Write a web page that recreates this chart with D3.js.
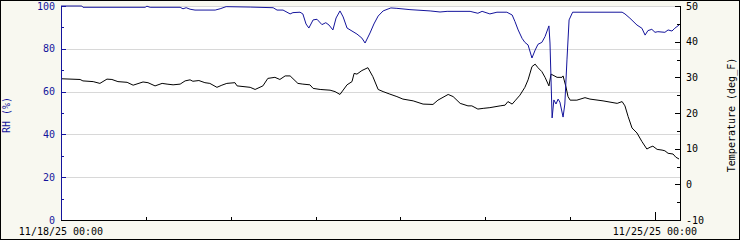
<!DOCTYPE html>
<html>
<head>
<meta charset="utf-8">
<script src="https://cdn.jsdelivr.net/npm/d3@7"></script>
<style>
  body { margin: 0; background: #fff; }
  svg { display: block; }
  text { font-family: "DejaVu Sans Mono", monospace; font-size: 10px; }
</style>
</head>
<body>
<svg id="chart"></svg>
<script>
// hours after 11/18/25 00:00
const rhHours = [0, 5.9, 6.2, 23.8, 24.3, 25.2, 33.7, 34.5, 35.4, 36.5, 37.9, 43.6, 45.0, 46.7, 53.5,
  60.0, 61.1, 62.8, 64.8, 65.6, 67.6, 68.4, 69.3, 70.1, 71.3, 72.4, 73.8, 74.9, 75.8, 76.9, 77.8,
  78.9, 79.8, 80.9, 82.3, 83.7, 85.1, 86.0, 87.4, 88.5, 89.7, 91.1, 92.5, 93.3, 95.0, 98.7, 104.4,
  107.2, 109.2, 115.7, 117.9, 119.1, 121.3, 123.3, 126.1, 127.6, 128.4, 129.3, 130.4, 131.2, 132.1,
  133.2, 134.1, 134.9, 136.0, 136.9, 138.0, 138.3, 138.9, 139.4, 140.0, 140.6, 141.1, 142.0, 142.5,
  143.1, 143.7, 144.7, 158.7, 159.5, 160.9, 162.9, 164.3, 165.2, 166.0, 167.1, 168.0, 168.8, 170.8,
  171.7, 172.8, 173.6, 174.8];
const rhValues = [100, 100, 99.4, 99.4, 99.9, 99.4, 99.4, 98.7, 99.2, 98.5, 98.1, 98.1, 98.7, 99.7, 99.5,
  99.2, 98.1, 98.1, 96.3, 96.9, 97.1, 96.3, 91.6, 89.7, 93.5, 93.8, 91.3, 92.2, 91.1, 88.8, 94.4,
  97.7, 94.9, 89.7, 88.3, 86.9, 85.0, 82.7, 87.4, 91.6, 95.3, 97.7, 98.6, 99.1, 98.9, 98.3, 97.7,
  97.2, 97.5, 97.5, 96.6, 97.5, 96.3, 97.1, 97.1, 95.8, 92.7, 88.8, 84.9, 83.0, 81.8,
  75.7, 79.4, 82.1, 83.0, 85.7, 90.7, 82.7, 47.7, 56.1, 54.2, 56.5, 55.1, 48.1, 54.2,
  74.8, 93.5, 97.1, 97.1, 96.3, 94.3, 91.1, 89.6, 86.4, 88.5, 89.1, 87.7, 88.0, 87.7,
  88.8, 88.3, 89.6, 91.1];

const tempHours = [0, 5.4, 6.2, 9.1, 11.0, 13.0, 14.4, 16.1, 18.7, 20.4, 23.2, 24.6, 26.6, 28.6, 30.0,
  31.7, 33.7, 35.1, 36.5, 37.3, 39.0, 40.7, 42.1, 44.1, 45.5, 46.9, 49.2, 49.8, 53.5, 54.9, 57.1,
  58.5, 60.5, 61.9, 63.4, 64.8, 67.0, 68.4, 70.4, 71.3, 73.3, 76.1, 77.5, 78.9, 80.9, 82.3, 82.9,
  83.7, 85.1, 86.8, 88.2, 89.7, 91.1, 93.0, 95.0, 96.7, 99.6, 102.4, 105.2, 106.6, 109.5, 110.9,
  112.9, 115.1, 116.2, 117.9, 119.4, 121.3, 124.2, 125.6, 126.4, 127.6, 128.4, 129.8, 131.2, 132.1,
  133.2, 134.1, 134.9, 136.0, 136.9, 138.0, 138.6, 140.3, 141.7, 142.0, 142.8, 143.4, 144.0, 145.9,
  148.2, 149.6, 153.3, 157.3, 158.7, 159.5, 160.4, 161.5, 162.9, 164.3, 165.7, 166.6, 167.4, 168.6,
  170.0, 170.8, 171.7, 173.1, 173.9, 174.8];
const tempValues = [29.6, 29.4, 29.0, 28.8, 28.3, 29.5, 29.4, 28.8, 28.6, 27.8, 28.7, 28.5, 27.6, 28.3, 28.1,
  27.9, 28.1, 29.0, 29.3, 28.9, 29.1, 28.5, 28.3, 27.2, 27.8, 28.3, 28.5, 27.6, 27.2, 26.6, 27.6,
  29.7, 30.0, 29.4, 30.4, 30.4, 28.3, 28.1, 27.9, 26.9, 26.6, 26.4, 26.0, 25.2, 27.9, 28.8, 31.1,
  30.9, 31.9, 32.7, 30.2, 26.6, 26.0, 25.3, 24.6, 23.9, 23.4, 22.5, 22.4, 23.6, 25.2, 24.6,
  22.7, 22.0, 22.0, 21.1, 21.3, 21.5, 22.0, 22.2, 23.2, 22.5, 23.4, 25.0, 27.2, 29.3,
  33.0, 33.7, 32.7, 31.6, 30.0, 27.6, 30.9, 30.0, 30.0, 30.4, 27.4, 24.6, 23.6, 23.6,
  24.3, 23.9, 23.4, 22.7, 23.2, 22.0, 19.0, 15.8, 14.4, 12.0, 9.9, 10.4, 10.7, 9.8,
  9.6, 9.4, 8.7, 8.5, 7.6, 7.1];

const rhTicks = [0, 20, 40, 60, 80, 100];
const tempTicks = [-10, 0, 10, 20, 30, 40, 50];
const timeLabels = ["11/18/25 00:00", "11/25/25 00:00"];

const width = 740, height = 240;
const plotLeft = 61, plotRight = 680, plotTop = 6, plotBottom = 220;
const blue = "#14149c";

const parseTime = d3.timeParse("%m/%d/%y %H:%M");
const formatTime = d3.timeFormat("%m/%d/%y %H:%M");
const start = parseTime(timeLabels[0]);
const hourMs = 3600 * 1000;
const toDate = (h) => new Date(start.getTime() + h * hourMs);

const x = d3.scaleTime()
  .domain([start, toDate(175.07)])
  .range([plotLeft, plotRight]);
const yRh = d3.scaleLinear().domain([0, 100]).range([plotBottom, plotTop]);
const yTemp = d3.scaleLinear().domain([-10, 50]).range([plotBottom, plotTop]);

const svg = d3.select("#chart").attr("width", width).attr("height", height);

// page background + border
svg.append("rect")
  .attr("x", 0.5).attr("y", 0.5)
  .attr("width", width - 1).attr("height", height - 1)
  .attr("fill", "#f8f8f0")
  .attr("stroke", "#000");

svg.append("rect")
  .attr("x", plotLeft).attr("y", plotTop)
  .attr("width", plotRight - plotLeft).attr("height", plotBottom - plotTop)
  .attr("fill", "#fff");

// grid from the RH axis
svg.append("g")
  .selectAll("line")
  .data(rhTicks.filter((d) => d > 0))
  .join("line")
  .attr("x1", plotLeft).attr("x2", plotRight)
  .attr("y1", (d) => Math.round(yRh(d)) + 0.5)
  .attr("y2", (d) => Math.round(yRh(d)) + 0.5)
  .attr("stroke", "#d8d8d8")
  .attr("shape-rendering", "crispEdges");

// lines
const rhLine = d3.line()
  .x((d) => x(toDate(d[0])))
  .y((d) => yRh(d[1]));
const tempLine = d3.line()
  .x((d) => x(toDate(d[0])))
  .y((d) => yTemp(d[1]));

svg.append("path")
  .datum(tempHours.map((h, i) => [h, tempValues[i]]))
  .attr("d", tempLine)
  .attr("fill", "none")
  .attr("stroke", "#000")
  .attr("stroke-width", 1);

svg.append("path")
  .datum(rhHours.map((h, i) => [h, rhValues[i]]))
  .attr("d", rhLine)
  .attr("fill", "none")
  .attr("stroke", blue)
  .attr("stroke-width", 1);

// left axis (RH)
const leftAxis = svg.append("g").attr("shape-rendering", "crispEdges");
leftAxis.append("line")
  .attr("x1", plotLeft + 0.5).attr("x2", plotLeft + 0.5)
  .attr("y1", plotTop).attr("y2", plotBottom)
  .attr("stroke", blue);
leftAxis.selectAll(".minor")
  .data(d3.range(10, 100, 20))
  .join("line")
  .attr("x1", plotLeft).attr("x2", plotLeft + 3)
  .attr("y1", (d) => Math.round(yRh(d)) + 0.5)
  .attr("y2", (d) => Math.round(yRh(d)) + 0.5)
  .attr("stroke", blue);
leftAxis.selectAll(".major")
  .data(rhTicks)
  .join("line")
  .attr("x1", plotLeft).attr("x2", plotLeft + 5)
  .attr("y1", (d) => Math.round(yRh(d)) + 0.5)
  .attr("y2", (d) => Math.round(yRh(d)) + 0.5)
  .attr("stroke", blue);
leftAxis.selectAll("text")
  .data(rhTicks)
  .join("text")
  .attr("x", 55)
  .attr("y", (d) => yRh(d))
  .attr("dy", "0.35em")
  .attr("text-anchor", "end")
  .attr("fill", blue)
  .text((d) => d);

// right axis (temperature)
const rightAxis = svg.append("g").attr("shape-rendering", "crispEdges");
rightAxis.append("line")
  .attr("x1", plotRight + 0.5).attr("x2", plotRight + 0.5)
  .attr("y1", plotTop).attr("y2", plotBottom)
  .attr("stroke", "#000");
rightAxis.selectAll(".minor")
  .data(d3.range(-5, 50, 10))
  .join("line")
  .attr("x1", plotRight - 3).attr("x2", plotRight)
  .attr("y1", (d) => Math.round(yTemp(d)) + 0.5)
  .attr("y2", (d) => Math.round(yTemp(d)) + 0.5)
  .attr("stroke", "#000");
rightAxis.selectAll(".major")
  .data(tempTicks)
  .join("line")
  .attr("x1", plotRight - 5).attr("x2", plotRight)
  .attr("y1", (d) => Math.round(yTemp(d)) + 0.5)
  .attr("y2", (d) => Math.round(yTemp(d)) + 0.5)
  .attr("stroke", "#000");
rightAxis.selectAll("text")
  .data(tempTicks)
  .join("text")
  .attr("x", 686)
  .attr("y", (d) => yTemp(d))
  .attr("dy", "0.35em")
  .attr("fill", "#000")
  .text((d) => d);

// bottom axis (time)
const bottomAxis = svg.append("g").attr("shape-rendering", "crispEdges");
bottomAxis.append("line")
  .attr("x1", plotLeft).attr("x2", plotRight + 1)
  .attr("y1", plotBottom + 0.5).attr("y2", plotBottom + 0.5)
  .attr("stroke", "#000");
const days = d3.timeDay.range(toDate(1), x.domain()[1]);
bottomAxis.selectAll(".day")
  .data(days)
  .join("line")
  .attr("x1", (d) => Math.round(x(d)) + 0.5)
  .attr("x2", (d) => Math.round(x(d)) + 0.5)
  .attr("y1", plotBottom)
  .attr("y2", (d) => (formatTime(d) === timeLabels[1] ? plotBottom - 8 : plotBottom - 3))
  .attr("stroke", "#000");
bottomAxis.selectAll("text")
  .data(timeLabels.map(parseTime))
  .join("text")
  .attr("x", (d) => x(d))
  .attr("y", 235)
  .attr("text-anchor", "middle")
  .attr("fill", "#000")
  .text((d) => formatTime(d));

// axis titles
svg.append("text")
  .attr("transform", `translate(10,${(plotTop + plotBottom) / 2 + 2}) rotate(-90)`)
  .attr("text-anchor", "middle")
  .attr("fill", blue)
  .text("RH (%)");
svg.append("text")
  .attr("transform", `translate(735,${(plotTop + plotBottom) / 2 + 2}) rotate(-90)`)
  .attr("text-anchor", "middle")
  .attr("fill", "#000")
  .text("Temperature (deg_F)");
</script>
</body>
</html>
